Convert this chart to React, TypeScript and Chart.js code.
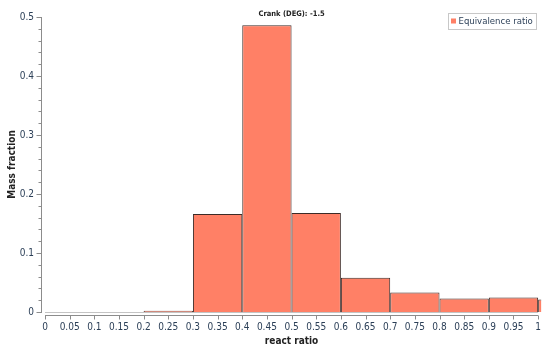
import React, { useEffect, useRef } from "react";
import { Chart, registerables } from "chart.js";

Chart.register(...registerables);

const seriesLabel = "Equivalence ratio";
const chartTitle = "Crank (DEG): -1.5";
const xAxisTitle = "react ratio";
const yAxisTitle = "Mass fraction";

// histogram bin centres (bin width 0.1)
const binCenters = [0.05, 0.15, 0.25, 0.35, 0.45, 0.55, 0.65, 0.75, 0.85, 0.95, 1.05];
const massFraction = [0, 0, 0.002, 0.166, 0.486, 0.168, 0.058, 0.033, 0.023, 0.0245, 0.021];

const xTickValues = [0, 0.05, 0.1, 0.15, 0.2, 0.25, 0.3, 0.35, 0.4, 0.45, 0.5, 0.55, 0.6, 0.65, 0.7, 0.75, 0.8, 0.85, 0.9, 0.95, 1];
const yTickValues = [0, 0.1, 0.2, 0.3, 0.4, 0.5];
const yMinorTickValues = [0.02, 0.04, 0.06, 0.08, 0.12, 0.14, 0.16, 0.18, 0.22, 0.24, 0.26, 0.28, 0.32, 0.34, 0.36, 0.38, 0.42, 0.44, 0.46, 0.48];

const FONT = '"DejaVu Sans Condensed", "Liberation Sans", sans-serif';
const LABEL_COLOR = "#2b3f57";
const AXIS_COLOR = "#8c8c8c";
const BAR_FILL = "#ff8066";
const BAR_BORDER = "#3d2b27";

const fmt = (v: number) => String(Number(Number(v).toFixed(3)));

const customAxes = {
  id: "customAxes",
  afterDraw(chart: any) {
    const { ctx, chartArea, scales } = chart;
    const { left, right, bottom } = chartArea;
    const x = scales.x;
    const y = scales.y;
    ctx.save();
    ctx.lineWidth = 1;
    // y axis line
    const ax = Math.round(left) - 4 + 0.5;
    ctx.strokeStyle = AXIS_COLOR;
    ctx.beginPath();
    ctx.moveTo(ax, Math.round(y.getPixelForValue(0.5)));
    ctx.lineTo(ax, Math.round(y.getPixelForValue(0)) + 1);
    ctx.stroke();
    yTickValues.forEach((v) => {
      const py = Math.round(y.getPixelForValue(v)) + 0.5;
      ctx.beginPath();
      ctx.moveTo(ax - 5, py);
      ctx.lineTo(ax, py);
      ctx.stroke();
    });
    yMinorTickValues.forEach((v) => {
      const py = Math.round(y.getPixelForValue(v)) + 0.5;
      ctx.beginPath();
      ctx.moveTo(ax - 3, py);
      ctx.lineTo(ax, py);
      ctx.stroke();
    });
    // light baseline
    const by = Math.round(bottom) + 0.5;
    ctx.strokeStyle = "#c4c4c4";
    ctx.beginPath();
    ctx.moveTo(left, by);
    ctx.lineTo(right, by);
    ctx.stroke();
    // x axis line
    const xy = by + 3;
    ctx.strokeStyle = AXIS_COLOR;
    ctx.beginPath();
    ctx.moveTo(left, xy);
    ctx.lineTo(right, xy);
    ctx.stroke();
    xTickValues.forEach((v) => {
      const px = Math.round(x.getPixelForValue(v)) + 0.5;
      ctx.beginPath();
      ctx.moveTo(px, xy);
      ctx.lineTo(px, xy + 4);
      ctx.stroke();
    });
    // title
    ctx.fillStyle = "#222222";
    ctx.font = `bold 7.5px ${FONT}`;
    ctx.textAlign = "center";
    ctx.textBaseline = "middle";
    ctx.fillText(chartTitle, (left + right) / 2, 14);
    // legend box
    const label = chart.data.datasets[0].label;
    ctx.font = `9.5px ${FONT}`;
    const tw = ctx.measureText(label).width;
    const bw = Math.round(tw + 14);
    const bx = Math.round(right) - 2 - bw + 0.5;
    const byy = 13.5;
    ctx.fillStyle = "#ffffff";
    ctx.fillRect(bx, byy, bw, 16);
    ctx.strokeStyle = "#c8c8c8";
    ctx.strokeRect(bx, byy, bw, 16);
    ctx.fillStyle = BAR_FILL;
    ctx.fillRect(bx + 2.5, byy + 5, 5, 5);
    ctx.fillStyle = LABEL_COLOR;
    ctx.textAlign = "left";
    ctx.fillText(label, bx + 10, byy + 8.5);
    ctx.restore();
  },
};

export default function App() {
  const ref = useRef<HTMLCanvasElement | null>(null);
  useEffect(() => {
    document.body.style.margin = "0";
    const canvas = ref.current;
    if (!canvas) return;
    const chart = new Chart(canvas, {
      type: "bar",
      data: {
        datasets: [
          {
            label: seriesLabel,
            data: binCenters.map((c, i) => ({ x: c, y: massFraction[i] })),
            backgroundColor: BAR_FILL,
            borderColor: BAR_BORDER,
            borderWidth: 1,
            borderSkipped: "start",
            // ruler spacing comes from the 0.05 ticks, bins are 0.1 wide
            barPercentage: 1,
            categoryPercentage: 2,
            clip: { left: 0, right: 3, top: 10, bottom: 0 } as any,
          },
        ],
      },
      options: {
        responsive: false,
        animation: false,
        layout: { padding: { left: 0, right: 10, top: 11, bottom: 0 } },
        plugins: {
          legend: { display: false },
          title: { display: false },
          tooltip: { enabled: false },
        },
        scales: {
          x: {
            type: "linear",
            min: 0,
            max: 1,
            offset: false,
            grid: { display: false, drawTicks: false },
            border: { display: false },
            afterFit: (s: any) => {
              s.height = 38;
            },
            afterBuildTicks: (s: any) => {
              s.ticks = xTickValues.map((v) => ({ value: v }));
            },
            ticks: {
              autoSkip: false,
              maxRotation: 0,
              padding: 9,
              color: LABEL_COLOR,
              font: { family: FONT, size: 10 },
              callback: (v: any) => fmt(v),
            },
            title: {
              display: true,
              text: xAxisTitle,
              color: "#222222",
              font: { family: FONT, size: 10, weight: "bold" },
              padding: { top: 0, bottom: 3 },
            },
          },
          y: {
            min: 0,
            max: 0.5,
            grid: { display: false, drawTicks: false },
            border: { display: false },
            afterFit: (s: any) => {
              s.width = 45;
            },
            afterBuildTicks: (s: any) => {
              s.ticks = yTickValues.map((v) => ({ value: v }));
            },
            ticks: {
              padding: 11,
              color: LABEL_COLOR,
              font: { family: FONT, size: 10 },
              callback: (v: any) => fmt(v),
            },
            title: {
              display: true,
              text: yAxisTitle,
              color: "#222222",
              font: { family: FONT, size: 10, weight: "bold" },
              padding: { top: 6, bottom: 0 },
            },
          },
        },
      },
      plugins: [customAxes],
    });
    return () => chart.destroy();
  }, []);
  return (
    <div style={{ width: 550, height: 350, background: "#ffffff" }}>
      <canvas ref={ref} width={550} height={350} />
    </div>
  );
}
